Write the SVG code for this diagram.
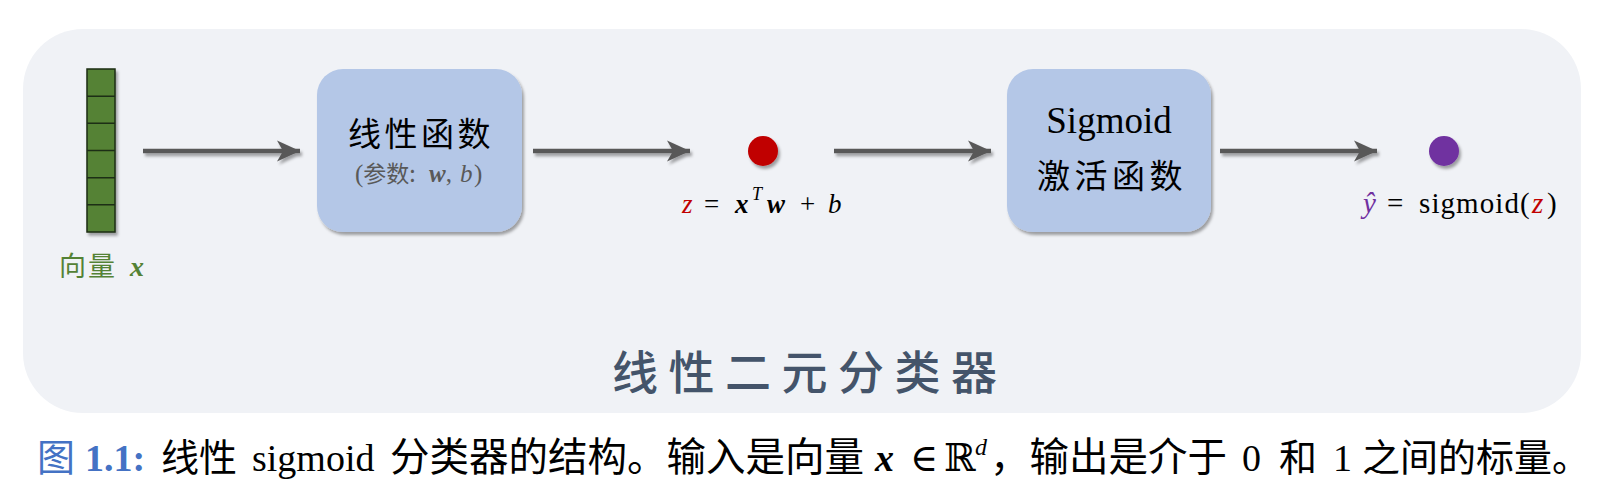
<svg xmlns="http://www.w3.org/2000/svg" width="1613" height="496" viewBox="0 0 1613 496">
<style>
.cjk{font-family:"Noto Sans CJK SC","Noto Sans CJK JP",sans-serif}
.ser{font-family:"Liberation Serif","DejaVu Serif",serif}
.box{fill:#b4c7e7}
.conn{stroke:#595959;stroke-width:4.5;fill:none}
.bi{font-weight:bold;font-style:italic}
.it{font-style:italic}
</style>
<defs>
<filter id="sh" x="-20%" y="-20%" width="140%" height="150%">
<feDropShadow dx="2" dy="3" stdDeviation="1.6" flood-color="#000" flood-opacity="0.35"/>
</filter>
<filter id="shu" filterUnits="userSpaceOnUse" x="0" y="0" width="1613" height="496">
<feDropShadow dx="2" dy="3" stdDeviation="1.6" flood-color="#000" flood-opacity="0.35"/>
</filter>
<marker id="ah" viewBox="0 0 24 24" refX="23" refY="12" markerWidth="24" markerHeight="24" markerUnits="userSpaceOnUse" orient="auto">
<path d="M0,1.5 L23,12 L0,22.5 L6,12 Z" fill="#595959"/>
</marker>
</defs>
<rect x="0" y="0" width="1613" height="496" fill="#ffffff"/>
<rect id="panel" x="23" y="29" width="1558" height="384" rx="60" ry="60" fill="#f0f2f6"/>

<g id="vector" filter="url(#sh)">
<rect x="87" y="69" width="28" height="163" fill="#548235" stroke="#1e2d14" stroke-width="1.5"/>
<path d="M87,96.2H115M87,123.3H115M87,150.5H115M87,177.7H115M87,204.8H115" stroke="#1e2d14" stroke-width="1.5"/>
</g>
<g id="vector-label">
<text class="cjk" x="59" y="276" font-size="27" fill="#548235" letter-spacing="2">向量</text>
<text class="ser bi" x="130" y="276" font-size="28" fill="#548235">x</text>
</g>

<g id="connectors" filter="url(#shu)">
<line class="conn" x1="143" y1="151" x2="300" y2="151" marker-end="url(#ah)"/>
<line class="conn" x1="533" y1="151" x2="690" y2="151" marker-end="url(#ah)"/>
<line class="conn" x1="834" y1="151" x2="991" y2="151" marker-end="url(#ah)"/>
<line class="conn" x1="1220" y1="151" x2="1377" y2="151" marker-end="url(#ah)"/>
</g>

<g id="linear">
<rect class="box" x="317" y="69" width="205" height="163" rx="26" filter="url(#sh)"/>
<text class="cjk" x="348" y="146" font-size="33" fill="#000" letter-spacing="3.5">线性函数</text>
<text x="355" y="182" font-size="25" fill="#595959"><tspan class="ser">(</tspan><tspan class="cjk" font-size="23">参数:</tspan><tspan class="ser bi" x="429">w</tspan><tspan class="ser">,</tspan><tspan class="ser it" x="460">b</tspan><tspan class="ser" x="474">)</tspan></text>
</g>

<g id="z-node">
<circle cx="763" cy="151" r="15" fill="#c00000" filter="url(#sh)"/>
<text class="ser" y="213" font-size="27"><tspan class="it" x="682" fill="#c00000">z</tspan><tspan x="704" fill="#000">=</tspan><tspan class="bi" x="735" fill="#000">x</tspan><tspan class="it" x="752" y="200" font-size="18" fill="#000">T</tspan><tspan class="bi" x="767" y="213" fill="#000">w</tspan><tspan x="800" fill="#000">+</tspan><tspan class="it" x="828" fill="#000">b</tspan></text>
</g>

<g id="sigmoid">
<rect class="box" x="1007" y="69" width="204" height="163" rx="26" filter="url(#sh)"/>
<text class="ser" x="1109" y="133" font-size="37" text-anchor="middle" fill="#000">Sigmoid</text>
<text class="cjk" x="1037" y="188" font-size="33" fill="#000" letter-spacing="4.5">激活函数</text>
</g>

<g id="y-node">
<circle cx="1444" cy="151" r="15" fill="#7030a0" filter="url(#sh)"/>
<text class="ser" y="213" font-size="29"><tspan class="it" x="1363" fill="#7030a0">ŷ</tspan><tspan x="1387" fill="#000">=</tspan><tspan x="1419" fill="#000" textLength="100">sigmoid</tspan><tspan x="1520" fill="#000">(</tspan><tspan class="it" x="1532" fill="#c00000">z</tspan><tspan x="1547" fill="#000">)</tspan></text>
</g>

<g id="title">
<text class="cjk" x="612" y="389" font-size="46" fill="#44546a" letter-spacing="10.5" font-weight="500">线性二元分类器</text>
</g>

<g id="caption" font-size="38">
<text class="cjk" x="37" y="471" fill="#4472c4">图</text>
<text class="ser" x="85" y="471" fill="#4472c4" font-weight="bold">1.1:</text>
<text y="471" fill="#000"><tspan class="cjk" x="161">线性</tspan><tspan class="ser" x="252">sigmoid</tspan><tspan class="cjk" x="390" font-size="39.5">分类器的结构。输入是向量</tspan><tspan class="ser bi" x="875">x</tspan><tspan class="ser" x="910">∈</tspan><tspan class="ser" x="944">ℝ</tspan><tspan class="ser it" x="975" y="455" font-size="24">d</tspan><tspan class="cjk" x="990" y="471" font-size="39.5">，输出是介于</tspan><tspan class="ser" x="1242">0</tspan><tspan class="cjk" x="1279">和</tspan><tspan class="ser" x="1333">1</tspan><tspan class="cjk" x="1362">之间的标量。</tspan></text>
</g>
</svg>
